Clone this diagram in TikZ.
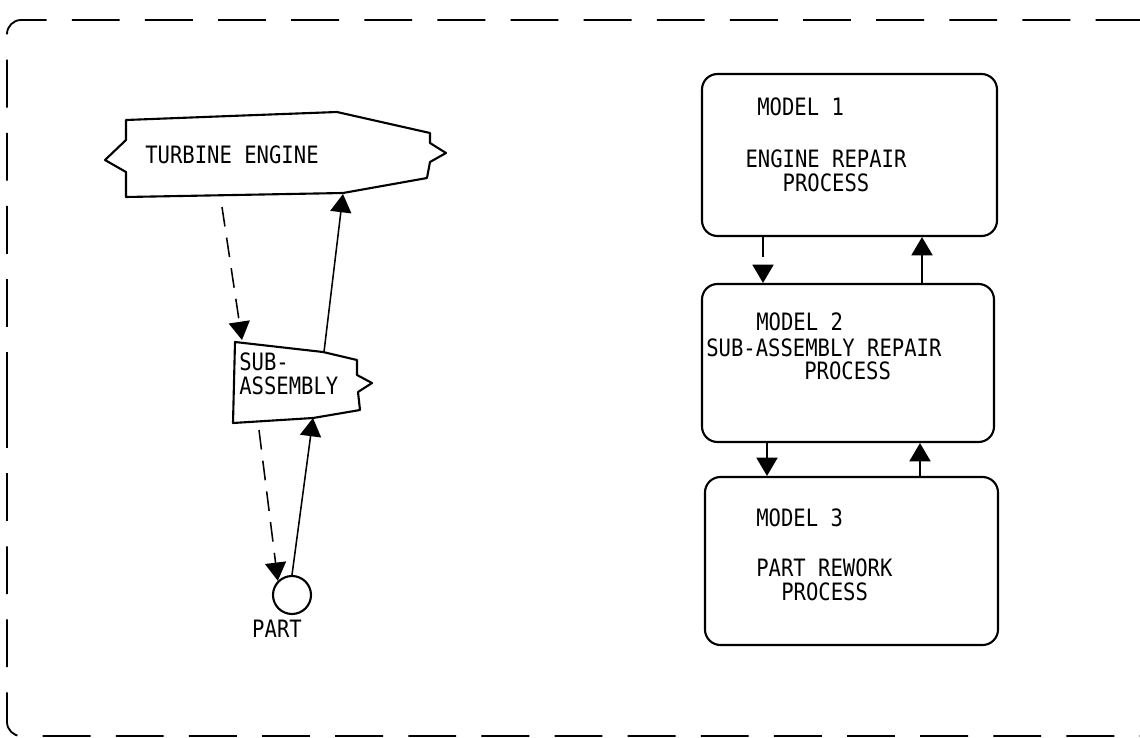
\documentclass[tikz,border=0pt]{standalone}
\usepackage{fontspec}
\newfontfamily\gothic[FakeStretch=0.86]{DejaVu Sans Mono}
\usepackage{tikz}
\usetikzlibrary{positioning,arrows.meta,fit}

\begin{document}
\begin{tikzpicture}[x=0.025cm, y=-0.025cm, every node/.style={font=\gothic\fontsize{17}{17}\selectfont, inner sep=0pt}, outl/.style={draw, line width=1.5pt, line join=round}, mbox/.style={draw, line width=1.5pt, rounded corners=11pt, inner sep=0pt}, arr/.style={-{Triangle[length=13pt,width=15pt]}, line width=1.1pt}, dsh/.style={arr, dash pattern=on 14pt off 8pt}, pageframe/.style={line width=1.3pt, rounded corners=10pt, dash pattern=on 34pt off 18pt}]
\useasboundingbox (0,0) rectangle (1140,738);
% outer frame
\draw[pageframe] (7,400) -- (7,20) -- (1140,20);
\draw[pageframe] (7,400) -- (7,736) -- (1140,736);
% left: engine, sub-assembly, part
\draw[outl] (126,120) -- (230,116) -- (337,112) -- (430,133) -- (430,143) -- (446,153) -- (430,162) -- (427,178) -- (343,193) -- (126,197) -- (126,172) -- (105,160) -- (126,140) -- cycle;
\node (eng) at (232,155) {TURBINE ENGINE};
\draw[outl] (235,342) -- (323,352) -- (357,360) -- (357,375) -- (372,383) -- (358,392) -- (360,410) -- (313,418) -- (233,423) -- cycle;
\node[anchor=west, align=left] (sub) at (239,374) {SUB-\\ASSEMBLY};
\node[outl, circle, minimum size=38*0.025cm] (part) at (292,595) {};
\node (partlbl) at (277,629) {PART};
\coordinate (e1) at (222,207); \coordinate (s1) at (242,340);
\coordinate (s2) at (324,352); \coordinate (e2) at (343,194);
\coordinate (s3) at (259,430); \coordinate (s4) at (313,418);
\draw[dsh] (e1) -- (s1); \draw[arr] (s2) -- (e2);
\draw[dsh] (s3) -- (part.north west); \draw[arr] (part.north) -- (s4);
% right: the three models
\node[mbox, fit={(702,74) (997,236)}] (m1) {};
\node[mbox, fit={(702,284) (994,442)}] (m2) {};
\node[mbox, fit={(705,477) (998,645)}] (m3) {};
\node[anchor=west] (m1a) at (757,107) {MODEL 1};
\node[align=center] (m1b) at (826,171) {ENGINE REPAIR\\PROCESS};
\node[anchor=west] (m2a) at (756,322) {MODEL 2};
\node[anchor=west] (m2b) at (706,348) {SUB-ASSEMBLY REPAIR};
\node[anchor=west] (m2c) at (804,371) {PROCESS};
\node[anchor=west] (m3a) at (756,518) {MODEL 3};
\node[anchor=west] (m3b) at (756,568) {PART REWORK};
\node[anchor=west] (m3c) at (781,592) {PROCESS};
\coordinate (d1) at (763,0); \coordinate (u1) at (922,0);
\coordinate (d2) at (767,0); \coordinate (u2) at (920,0);
\draw[dsh] (d1 |- m1.south) -- (d1 |- m2.north);
\draw[arr] (u1 |- m2.north) -- (u1 |- m1.south);
\draw[dsh] (d2 |- m2.south) -- (d2 |- m3.north);
\draw[arr] (u2 |- m3.north) -- (u2 |- m2.south);
\end{tikzpicture}
\end{document}
